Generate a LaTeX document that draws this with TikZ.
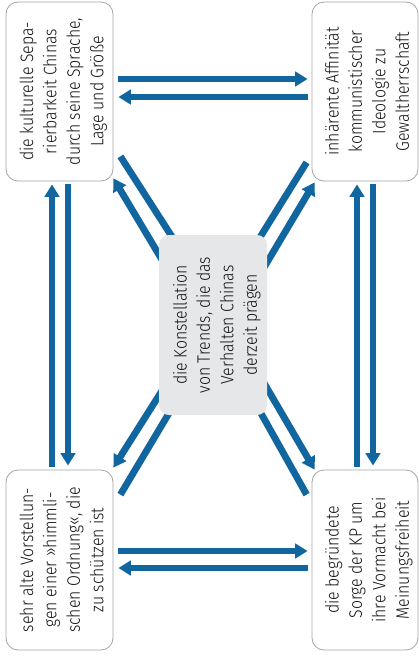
\documentclass[tikz,border=0pt]{standalone}
\usepackage{fontspec}
\setmainfont{Fira Sans Light}[FakeStretch=0.88]
\usepackage{graphicx}
\usetikzlibrary{arrows.meta}
\definecolor{arrowblue}{RGB}{18,102,160}
\definecolor{boxgray}{RGB}{165,165,165}
\definecolor{centergray}{RGB}{230,231,232}
\definecolor{txt}{RGB}{20,20,20}
\pgfdeclarelayer{bg}
\pgfsetlayers{bg,main}
\newcommand{\rtext}[1]{\rotatebox{90}{\fontsize{18}{23.4}\selectfont\raisebox{-4pt}[\height][\depth]{\begin{tabular}{@{}c@{}}#1\end{tabular}}}}
\tikzset{
  box/.style={draw=boxgray, line width=0.8pt, fill=white, rounded corners=12pt, inner sep=0pt,
    minimum width=107pt, minimum height=179pt, text=txt, align=center},
  cbox/.style={fill=centergray, rounded corners=10pt, inner sep=0pt,
    minimum width=108pt, minimum height=180pt, text=txt, align=center},
  arr/.style={draw=arrowblue, line width=6.8pt, -{Triangle[width=14.5pt,length=12.5pt]}},
  bar/.style={draw=arrowblue, line width=6.8pt}
}
\begin{document}
\begin{tikzpicture}[x=1pt,y=-1pt]
\useasboundingbox (0,0) rectangle (419,657);
\node[box] (tl) at (59.5,91.5) {\rtext{die kulturelle Sepa-\\rierbarkeit Chinas\\durch seine Sprache,\\Lage und Größe}};
\node[box, minimum width=106pt] (tr) at (365,91.5) {\rtext{inhärente Affinität\\kommunistischer\\Ideologie zu\\Gewaltherrschaft}};
\node[box, minimum height=180pt] (bl) at (59.5,560) {\rtext{sehr alte Vorstellun-\\gen einer »himmli-\\schen Ordnung«, die\\zu schützen ist}};
\node[box, minimum width=106pt, minimum height=180pt] (br) at (365,560) {\rtext{die begründete\\Sorge der KP um\\ihre Vormacht bei\\Meinungsfreiheit}};
\node[cbox] (c) at (213,325) {\rtext{die Konstellation\\von Trends, die das\\Verhalten Chinas\\derzeit prägen}};
\begin{pgfonlayer}{bg}
% top horizontals
\draw[arr] ([xshift=5pt,yshift=12.5pt]tl.east) -- ([xshift=-4pt,yshift=12.5pt]tr.west);
\draw[arr] ([xshift=-4pt,yshift=-5.5pt]tr.west) -- ([xshift=5pt,yshift=-5.5pt]tl.east);
% bottom horizontals
\draw[arr] ([xshift=5pt,yshift=9pt]bl.east) -- ([xshift=-4pt,yshift=9pt]br.west);
\draw[arr] ([xshift=-4pt,yshift=-8pt]br.west) -- ([xshift=5pt,yshift=-8pt]bl.east);
% left verticals
\draw[arr] ([xshift=-7.5pt,yshift=3pt]bl.north) -- ([xshift=-7.5pt,yshift=-3pt]tl.south);
\draw[arr] ([xshift=8.5pt,yshift=-3pt]tl.south) -- ([xshift=8.5pt,yshift=4pt]bl.north);
% right verticals
\draw[arr] ([xshift=-8pt,yshift=3pt]br.north) -- ([xshift=-8pt,yshift=-3pt]tr.south);
\draw[arr] ([xshift=8pt,yshift=-3pt]tr.south) -- ([xshift=8pt,yshift=4pt]br.north);
% diagonals
\draw[bar] ([xshift=7pt,yshift=25pt]tl.south east) -- ([xshift=19pt,yshift=-11pt]c.north west);
\draw[arr] ([xshift=5pt,yshift=-28pt]c.north west) -- ([yshift=3pt]tl.south east);
\draw[bar] ([xshift=-5pt,yshift=19pt]tr.south west) -- ([xshift=-15pt,yshift=-15pt]c.north east);
\draw[arr] ([xshift=-4pt,yshift=-34pt]c.north east) -- ([xshift=3pt,yshift=-1pt]tr.south west);
\draw[arr] ([xshift=5.4pt,yshift=28pt]c.south west) -- ([yshift=2pt]bl.north east);
\draw[bar] ([xshift=7pt,yshift=-25pt]bl.north east) -- ([xshift=16.7pt,yshift=13pt]c.south west);
\draw[arr] ([xshift=-6pt,yshift=37pt]c.south east) -- ([xshift=3pt]br.north west);
\draw[bar] ([xshift=-5pt,yshift=-25pt]br.north west) -- ([xshift=-12.4pt,yshift=13pt]c.south east);
\end{pgfonlayer}
\end{tikzpicture}
\end{document}
